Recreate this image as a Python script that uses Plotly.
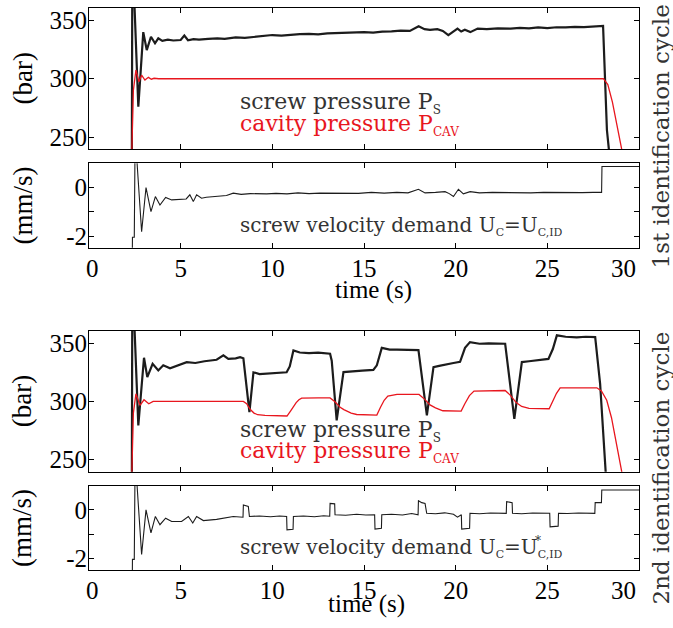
import plotly.graph_objects as go

# ---------------- data ----------------
# 1st identification cycle: screw pressure P_S (bar)
t_ps1 = [0, 2.30, 2.36, 2.44, 2.69, 2.80, 2.96, 3.15, 3.38, 3.60, 3.78, 4.0, 4.3, 4.6, 5.0,
         5.2, 5.4, 5.7, 6.0, 6.5, 7.0, 7.4, 8.0, 8.5, 9.0, 9.5, 10.0, 10.5, 11.0, 11.5,
         12.0, 12.5, 13.0, 13.5, 14.0, 14.5, 15.0, 15.5, 16.0, 16.5, 17.0, 17.5, 17.98, 18.3,
         18.6, 19.0, 19.3, 19.6, 19.85, 20.1, 20.3, 20.5, 20.8, 21.2, 21.7, 22.3, 23.0, 23.5,
         24.0, 24.5, 25.0, 25.5, 26.0, 26.5, 27.0, 27.5, 28.04, 28.25, 28.45]
ps1 = [0, 0, 380, 380, 276, 300, 340, 324.6, 336, 330.4, 334.7, 332.5, 333.5, 332.8, 333.2,
       337, 333, 334, 333.5, 334.2, 334.7, 334.2, 335.5, 335, 336, 336.5, 337.5, 337, 337.8, 338.2,
       338.5, 338, 339, 339.3, 339, 339.8, 340, 339.6, 340.5, 340.7, 341.2, 341, 345, 342.5,
       342, 342.5, 341, 337.5, 340, 343, 340.5, 342, 340, 343, 342.5, 343.3, 343, 343.6,
       343.2, 344, 343.5, 344.2, 344, 344.5, 344.3, 345, 345.3, 256, 225]

# 1st identification cycle: cavity pressure P_CAV (bar)
t_pc1 = [0, 2.30, 2.34, 2.42, 2.56, 2.72, 2.87, 3.05, 3.24, 3.40, 3.55, 3.8, 5.0, 8.0,
         12.0, 16.0, 20.0, 24.0, 28.06, 28.3, 28.55, 28.8, 29.15]
pc1 = [0, 0, 240, 290, 307.5, 297.4, 303, 298.9, 301.2, 299.6, 300.4, 300, 300, 300,
       300, 300, 300, 300, 300, 295, 280, 260, 232]

# 1st identification cycle: screw velocity demand (mm/s)
t_v1 = [0, 2.36, 2.37, 2.47, 2.51, 2.57, 2.87, 3.11, 3.38, 3.62, 3.87, 4.18, 4.51, 4.96,
        5.3, 5.5, 5.69, 5.87, 6.14, 6.4, 6.78, 7.1, 7.5, 7.87, 8.3, 8.8, 9.3, 9.69,
        10.2, 10.8, 11.4, 12.0, 12.6, 13.3, 14.0, 14.7, 15.4, 16.1, 16.79, 17.4, 17.97, 18.33,
        18.9, 19.42, 19.65, 19.88, 20.15, 20.42, 20.79, 21.3, 22.0, 22.7, 23.4, 24.1, 24.8, 25.5,
        26.2, 26.9, 27.5, 27.96, 27.98, 30.0]
v1 = [-3, -3, -2.05, -2.05, 1.6, 1.6, -1.82, 0.0, -0.99, -0.37, -0.72, -0.41, -0.51, -0.5,
      -0.47, -0.3, -0.58, -0.3, -0.44, -0.4, -0.37, -0.35, -0.33, -0.23, -0.28, -0.25, -0.27, -0.26,
      -0.24, -0.26, -0.22, -0.25, -0.23, -0.23, -0.21, -0.24, -0.2, -0.23, -0.2, -0.22, -0.07, -0.22,
      -0.2, -0.17, -0.25, -0.37, -0.07, -0.26, -0.17, -0.22, -0.2, -0.21, -0.19, -0.22, -0.2, -0.21,
      -0.19, -0.21, -0.2, -0.2, 0.87, 0.87]

# 2nd identification cycle: screw pressure P_S (bar)
t_ps2 = [0, 2.30, 2.36, 2.44, 2.69, 3.0, 3.18, 3.47, 3.78, 4.05, 4.42, 4.9, 5.33, 5.8,
         6.3, 6.96, 7.33, 7.6, 8.0, 8.24, 8.42, 8.75, 8.97, 9.3, 9.7, 10.2, 10.78, 10.95,
         11.15, 11.5, 12.0, 12.5, 13.15, 13.24, 13.51, 13.88, 14.3, 14.9, 15.51, 15.7, 15.97, 16.4,
         16.8, 17.4, 17.97, 18.43, 18.79, 19.1, 19.51, 19.88, 20.24, 20.51, 20.78, 21.3, 21.8, 22.3,
         22.7, 23.2, 23.61, 24.0, 24.6, 25.06, 25.3, 25.52, 26.0, 26.6, 27.1, 27.61, 27.88, 28.24]
ps2 = [0, 0, 380, 380, 279.4, 337.5, 320.9, 332.3, 326.6, 331, 328.5, 331.5, 333.7, 333,
       334.5, 335.8, 339.5, 336.5, 337, 338, 337, 290.8, 325, 323.5, 324, 324.5, 325, 330,
       343.8, 342, 341.5, 341.8, 341, 335, 283.7, 325.2, 326, 326.5, 327, 331, 346, 344.5,
       344.4, 344.2, 344, 288, 329.5, 330.5, 332, 333, 334, 346, 350.9, 349.5, 349.8, 349.3,
       349.5, 285.1, 333.8, 334.5, 335.5, 336.5, 345, 356.7, 355.5, 355, 355.5, 355.2, 315, 225]

# 2nd identification cycle: cavity pressure P_CAV (bar)
t_pc2 = [0, 2.30, 2.34, 2.42, 2.56, 2.78, 3.0, 3.26, 3.5, 4.0, 6.0, 8.42, 8.6, 8.8,
         9.0, 9.2, 9.6, 10.2, 10.8, 11.0, 11.15, 11.3, 11.45, 11.6, 12.5, 13.15, 13.4, 13.7,
         13.9, 14.3, 14.6, 15.2, 15.7, 15.9, 16.1, 16.3, 16.8, 18.0, 18.3, 18.6, 18.9, 19.3,
         20.3, 20.5, 20.75, 21.0, 22.0, 22.7, 23.0, 23.3, 23.6, 24.0, 25.1, 25.3, 25.5, 25.7,
         26.5, 27.7, 27.95, 28.24, 28.5, 28.7, 29.06, 29.2]
pc2 = [0, 0, 240, 290, 306.6, 296.6, 301.4, 298, 300, 300, 300, 300, 298, 293,
       290, 288.6, 288, 288, 287.5, 292, 296, 299, 301.5, 302.8, 303, 303, 300, 295,
       293, 290, 288.8, 288.3, 288.3, 295, 301, 304.5, 306, 306, 302, 297, 294.5, 292,
       291.7, 298, 305, 308.9, 309.4, 309.4, 305, 299, 295.7, 294, 293.7, 300, 307, 311.7,
       311.7, 311.7, 309, 301, 286, 269.4, 240.8, 228]

# 2nd identification cycle: screw velocity demand (mm/s)
t_v2 = [0, 2.36, 2.37, 2.47, 2.51, 2.57, 2.87, 3.11, 3.38, 3.62, 3.87, 4.18, 4.51, 5.05,
        5.42, 5.66, 5.87, 6.24, 6.96, 7.4, 7.87, 8.4, 8.42, 8.69, 8.75, 9.3, 9.9, 10.4,
        10.78, 10.8, 11.13, 11.15, 11.7, 12.3, 12.8, 13.13, 13.15, 13.4, 13.42, 14.0, 14.6, 15.1,
        15.58, 15.6, 15.95, 15.97, 16.5, 17.1, 17.6, 17.95, 17.97, 18.15, 18.33, 18.42, 18.9, 19.4,
        19.88, 20.1, 20.31, 20.33, 20.76, 20.78, 21.3, 21.9, 22.4, 22.76, 22.78, 23.08, 23.1, 23.6,
        24.2, 24.7, 25.13, 25.15, 25.59, 25.61, 26.1, 26.7, 27.2, 27.59, 27.61, 27.95, 27.97, 30.0]
v2 = [-3, -3, -2.04, -2.04, 1.6, 1.6, -1.84, 0.0, -0.95, -0.27, -0.61, -0.34, -0.48, -0.48,
      -0.27, -0.54, -0.27, -0.44, -0.39, -0.33, -0.27, -0.3, 0.2, 0.14, -0.27, -0.25, -0.28, -0.25,
      -0.27, -0.82, -0.8, -0.27, -0.25, -0.28, -0.24, -0.26, 0.27, 0.25, -0.2, -0.22, -0.18, -0.21,
      -0.2, -0.79, -0.76, -0.2, -0.18, -0.21, -0.15, -0.2, 0.38, 0.3, 0.27, -0.14, -0.16, -0.12,
      -0.18, -0.3, -0.2, -0.79, -0.76, -0.14, -0.16, -0.13, -0.15, -0.14, 0.34, 0.3, -0.14, -0.16,
      -0.13, -0.15, -0.14, -0.7, -0.67, -0.14, -0.15, -0.13, -0.15, -0.14, 0.3, 0.3, 0.82, 0.82]

for a, b in [(t_ps1, ps1), (t_pc1, pc1), (t_v1, v1), (t_ps2, ps2), (t_pc2, pc2), (t_v2, v2)]:
    assert len(a) == len(b), (len(a), len(b))

x_ticks = [0, 5, 10, 15, 20, 25, 30]
x_ticktext = ["\u00a00", "5", "10", "15", "20", "25", "30\u00a0\u00a0\u00a0\u00a0\u00a0"]
p_ticks = [250, 300, 350]
v_ticks = [-2, -1, 0]
v_ticktext = ["-2", "", "0"]

# ---------------- figure ----------------
W, H = 673, 628
BLACK = "#1c1c1c"
RED = "#e8161e"
GREY = "#333333"
SERIF = "Liberation Serif"
SERIF2 = "DejaVu Serif"

fig = go.Figure()
fig.add_trace(go.Scatter(x=t_ps1, y=ps1, mode="lines", line=dict(color=BLACK, width=2.2), xaxis="x", yaxis="y"))
fig.add_trace(go.Scatter(x=t_pc1, y=pc1, mode="lines", line=dict(color=RED, width=1.3), xaxis="x", yaxis="y"))
fig.add_trace(go.Scatter(x=t_v1, y=v1, mode="lines", line=dict(color=BLACK, width=1.1), xaxis="x2", yaxis="y2"))
fig.add_trace(go.Scatter(x=t_ps2, y=ps2, mode="lines", line=dict(color=BLACK, width=2.2), xaxis="x3", yaxis="y3"))
fig.add_trace(go.Scatter(x=t_pc2, y=pc2, mode="lines", line=dict(color=RED, width=1.3), xaxis="x3", yaxis="y3"))
fig.add_trace(go.Scatter(x=t_v2, y=v2, mode="lines", line=dict(color=BLACK, width=1.1), xaxis="x4", yaxis="y4"))

xdom = [89 / W, 639 / W]
def ydom(top, bot):
    return [1 - bot / H, 1 - top / H]

common_ax = dict(showline=True, linecolor="black", linewidth=1, mirror="ticks", ticks="inside",
                 ticklen=5, tickcolor="black", showgrid=False, zeroline=False, automargin=False,
                 tickfont=dict(family=SERIF, size=25, color="black"))

def xax(anchor, labels):
    d = dict(common_ax)
    d.update(domain=xdom, range=[0, 30], anchor=anchor, tickvals=x_ticks, ticktext=x_ticktext,
             showticklabels=labels, ticklabelstandoff=-2)
    return d

def pax(anchor, dom):
    d = dict(common_ax)
    d.update(domain=dom, range=[239.7, 360.7], anchor=anchor, tickvals=p_ticks,
             ticklabelstandoff=-4)
    return d

def vax(anchor, dom):
    d = dict(common_ax)
    d.update(domain=dom, range=[-2.48, 1.0], anchor=anchor, tickvals=v_ticks, ticktext=v_ticktext,
             ticklabelstandoff=-4)
    return d

fig.update_layout(
    width=W, height=H, margin=dict(l=0, r=0, t=0, b=0, autoexpand=False),
    paper_bgcolor="white", plot_bgcolor="white", showlegend=False,
    xaxis=xax("y", False), yaxis=pax("x", ydom(8, 149)),
    xaxis2=xax("y2", True), yaxis2=vax("x2", ydom(163.3, 247.7)),
    xaxis3=xax("y3", False), yaxis3=pax("x3", ydom(330.7, 471.7)),
    xaxis4=xax("y4", True), yaxis4=vax("x4", ydom(485.7, 570)),
)

def px(x):
    return x / W

def py(y):
    return 1 - y / H

ann = []
def add(text, x, y, size, family=SERIF, color="black", angle=0, xanchor="center"):
    ann.append(dict(text=text, x=px(x), y=py(y), xref="paper", yref="paper", showarrow=False,
                    font=dict(family=family, size=size, color=color), textangle=angle,
                    xanchor=xanchor, yanchor="middle"))

def sub(s, size):
    return "<sub><span style='font-size:%dpx'>%s</span></sub>" % (size, s)

# axis titles
add("(bar)", 22, 78.5, 27, angle=-90)
add("(mm/s)", 22, 205.5, 27, angle=-90)
add("(bar)", 22, 401.2, 27, angle=-90)
add("(mm/s)", 22, 527.9, 27, angle=-90)
add("time (s)", 373, 290, 25)
add("time (s)", 367, 604, 25)
add("1st identification cycle", 660, 136.5, 23, family=SERIF2, color=GREY, angle=-90)
add("2nd identification cycle", 660, 468.5, 23, family=SERIF2, color=GREY, angle=-90)

# in-panel labels
add("screw pressure P" + sub("S", 12), 238, 103, 22, family=SERIF2, color=GREY, xanchor="left")
add("cavity pressure P" + sub("CAV", 12), 238, 125, 22, family=SERIF2, color=RED, xanchor="left")
add("screw velocity demand U" + sub("C", 11) + "=U" + sub("C,ID", 11), 238, 226, 20,
    family=SERIF2, color=GREY, xanchor="left")
add("screw pressure P" + sub("S", 12), 238, 431, 22, family=SERIF2, color=GREY, xanchor="left")
add("cavity pressure P" + sub("CAV", 12), 238, 452, 22, family=SERIF2, color=RED, xanchor="left")
add("screw velocity demand U" + sub("C", 11) + "=U" + sub("C,ID", 11), 238, 548, 20,
    family=SERIF2, color=GREY, xanchor="left")
add("*", 533, 541, 12, family=SERIF2, color=GREY, xanchor="left")

fig.update_layout(annotations=ann)
fig.write_html("out.html", post_script="document.body.style.margin='0';",
               config={"displayModeBar": False})
